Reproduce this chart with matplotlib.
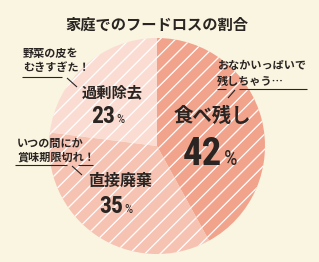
import matplotlib
matplotlib.use("Agg")
import matplotlib.pyplot as plt

# data
labels = ["食べ残し", "直接廃棄", "過剰除去"]
shares = [42, 35, 23]
slice_colors = ["#f1a38c", "#f6c2b2", "#fadcd2"]
title = "家庭でのフードロスの割合"
notes = [["おなかいっぱいで", "残しちゃう…"],
         ["いつの間にか", "賞味期限切れ！"],
         ["野菜の皮を", "むきすぎた！"]]

W, H = 319, 262
DPI = 92  # hatch spacing follows dpi
k = 100 / DPI  # sizes below are given as points at 100 dpi
bg = "#f9f5e0"
ink = "#2a2522"
jp = ["Noto Sans CJK JP", "DejaVu Sans"]
num = ["Roboto Condensed", "DejaVu Sans"]

plt.rcParams["hatch.linewidth"] = 1.0

fig = plt.figure(figsize=(W / DPI, H / DPI), dpi=DPI, facecolor=bg)
pax = fig.add_axes([0, 0, 1, 1])
wedges, _ = pax.pie(shares, colors=slice_colors, startangle=90, counterclock=False,
                    center=(157, H - 146), radius=108, frame=True,
                    wedgeprops=dict(edgecolor="white", linewidth=0))
pax.set_xlim(0, W)
pax.set_ylim(0, H)
pax.axis("off")
for w in wedges:
    w.set_hatch("//")

ax = fig.add_axes([0, 0, 1, 1], zorder=1)
ax.set_xlim(0, W)
ax.set_ylim(H, 0)
ax.axis("off")
ax.patch.set_alpha(0)

def t(x, y, s, size, **kw):
    ax.text(x, y, s, color=ink, fontsize=size * k, **kw)

t(157, 25, title, 11, ha="center", va="center", fontweight="bold", family=jp)

# slice labels
t(212, 116, labels[0], 14, ha="center", va="center", fontweight="bold", family=jp)
t(120, 181, labels[1], 11.5, ha="center", va="center", fontweight="bold", family=jp)
t(112, 92, labels[2], 11, ha="center", va="center", fontweight="bold", family=jp)

# percentages
for v, x, y, fs in [(shares[0], 222, 165, 28), (shares[1], 123, 213, 17), (shares[2], 115, 123, 17)]:
    t(x, y, str(v), fs, ha="right", va="baseline", fontweight="bold", family=num)
    t(x + 1.5, y, "%", fs * 0.55, ha="left", va="baseline", family=num)

# callouts
for lines, x, ys in [(notes[0], 217, (65, 81)), (notes[1], 17, (143, 157)), (notes[2], 23, (53, 68))]:
    for s, y in zip(lines, ys):
        t(x, y, s, 8, ha="left", va="center", fontweight="bold", family=jp)

lk = dict(color=ink, lw=0.8 * k, solid_capstyle="butt")
ax.plot([217, 226], [89, 89], **lk)
ax.plot([235, 228], [90, 98], **lk)
ax.plot([239, 307], [89, 89], **lk)

ax.plot([15, 67], [165, 165], **lk)
ax.plot([72, 82], [166, 175], **lk)
ax.plot([78, 93], [165, 165], **lk)

ax.plot([22, 62], [77, 77], **lk)
ax.plot([67, 77], [78, 87], **lk)

fig.savefig("out.png", dpi=DPI, facecolor=bg)
